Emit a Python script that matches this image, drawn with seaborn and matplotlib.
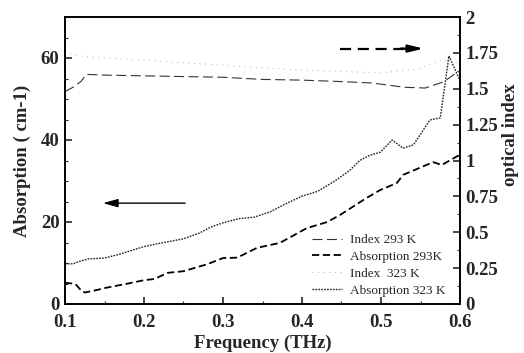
import numpy as np
import pandas as pd
import matplotlib
matplotlib.use("Agg")
import matplotlib.pyplot as plt
import seaborn as sns

# ---------------- data ----------------
freq_abs323 = [0.100, 0.110, 0.120, 0.130, 0.150, 0.170, 0.200, 0.220, 0.250, 0.270,
               0.285, 0.300, 0.320, 0.340, 0.360, 0.380, 0.400, 0.420, 0.440, 0.460,
               0.473, 0.486, 0.499, 0.514, 0.528, 0.541, 0.562, 0.575, 0.586, 0.600]
abs323 = [9.8, 9.8, 10.5, 11.0, 11.2, 12.2, 14.0, 14.8, 15.9, 17.3,
          18.8, 19.8, 20.8, 21.2, 22.5, 24.5, 26.3, 27.5, 29.8, 32.5,
          35.0, 36.3, 37.0, 40.0, 38.0, 38.8, 44.9, 45.4, 60.5, 54.5]

freq_abs293 = [0.100, 0.113, 0.121, 0.125, 0.140, 0.153, 0.180, 0.200, 0.213, 0.230,
               0.250, 0.280, 0.300, 0.318, 0.343, 0.372, 0.406, 0.432, 0.448, 0.482,
               0.499, 0.520, 0.528, 0.566, 0.577, 0.596, 0.600]
abs293 = [5.2, 4.9, 3.2, 2.8, 3.4, 4.0, 5.0, 5.8, 6.1, 7.6,
          8.0, 9.7, 11.2, 11.3, 13.7, 14.9, 18.5, 20.0, 21.7, 25.9,
          27.8, 29.5, 31.5, 34.6, 33.9, 36.0, 36.3]

freq_idx293 = [0.100, 0.110, 0.120, 0.127, 0.150, 0.200, 0.250, 0.300, 0.350, 0.400,
               0.450, 0.489, 0.530, 0.556, 0.580, 0.595, 0.600]
idx293 = [1.48, 1.51, 1.55, 1.60, 1.595, 1.59, 1.585, 1.58, 1.565, 1.56,
          1.55, 1.54, 1.51, 1.505, 1.55, 1.61, 1.62]

freq_idx323 = [0.100, 0.130, 0.150, 0.200, 0.250, 0.300, 0.350, 0.400, 0.450, 0.500,
               0.550, 0.575, 0.600]
idx323 = [1.75, 1.72, 1.715, 1.70, 1.68, 1.665, 1.645, 1.63, 1.62, 1.61,
          1.64, 1.70, 1.68]

labels = ["Index 293 K", "Absorption 293K", "Index  323 K", "Absorption 323 K"]
x_ticks = [0.1, 0.2, 0.3, 0.4, 0.5, 0.6]
left_ticks = [0, 20, 40, 60]
right_ticks = [0, 0.25, 0.5, 0.75, 1, 1.25, 1.5, 1.75, 2]
right_ticklabels = ["0", "0.25", "0.5", "0.75", "1", "1.25", "1.5", "1.75", "2"]

# ---------------- style ----------------
sns.set_style("ticks")
plt.rcParams["font.family"] = ["Liberation Serif", "DejaVu Serif"]
plt.rcParams["axes.linewidth"] = 1.2

fig = plt.figure(figsize=(5.24, 3.53), dpi=100)
ax = fig.add_axes([65 / 524, 1 - 304 / 353, 395 / 524, 287 / 353])
ax2 = ax.twinx()

df_a323 = pd.DataFrame({"f": freq_abs323, "v": abs323})
df_a293 = pd.DataFrame({"f": freq_abs293, "v": abs293})
df_i293 = pd.DataFrame({"f": freq_idx293, "v": idx293})
df_i323 = pd.DataFrame({"f": freq_idx323, "v": idx323})

sns.lineplot(data=df_a293, x="f", y="v", ax=ax, color="black", lw=1.3,
             estimator=None, sort=False)
sns.lineplot(data=df_a323, x="f", y="v", ax=ax, color="#222222", lw=1.0,
             estimator=None, sort=False)
sns.lineplot(data=df_i293, x="f", y="v", ax=ax2, color="#333333", lw=0.8,
             estimator=None, sort=False)
sns.lineplot(data=df_i323, x="f", y="v", ax=ax2, color="#9a9a9a", lw=0.7,
             estimator=None, sort=False)

l_a293, l_a323 = ax.get_lines()[0], ax.get_lines()[1]
l_i293, l_i323 = ax2.get_lines()[0], ax2.get_lines()[1]
l_a293.set_dashes([4, 2])
l_a323.set_dashes([1.2, 0.9])
l_i293.set_dashes([9, 4])
l_i323.set_dashes([0.8, 5])

ax.set_xlim(0.1, 0.6)
ax.set_ylim(0, 70)
ax2.set_ylim(0, 2)

ax.set_xticks(x_ticks)
ax.set_xticklabels([f"{t:.1f}" for t in x_ticks])
ax.set_yticks(left_ticks)
ax2.set_yticks(right_ticks)
ax2.set_yticklabels(right_ticklabels)
ax.xaxis.set_minor_locator(matplotlib.ticker.MultipleLocator(0.05))
ax.yaxis.set_minor_locator(matplotlib.ticker.MultipleLocator(5))
ax2.yaxis.set_minor_locator(matplotlib.ticker.MultipleLocator(0.125))

for lab in ax.get_xticklabels() + ax.get_yticklabels() + ax2.get_yticklabels():
    lab.set_fontsize(13.5)
    lab.set_fontweight("bold")

ax.tick_params(axis="both", which="major", direction="in", length=5, width=1.2,
               top=False, right=False)
ax.tick_params(axis="both", which="minor", direction="in", length=2.5, width=0.8,
               top=False, right=False)
ax.tick_params(axis="x", pad=7)
ax.tick_params(axis="y", pad=4)
ax2.tick_params(axis="y", which="major", direction="in", length=5, width=1.2, pad=4)
ax2.tick_params(axis="y", which="minor", direction="in", length=2.5, width=0.8)

for a in (ax, ax2):
    for s in a.spines.values():
        s.set_visible(True)
        s.set_color("black")
        s.set_linewidth(1.2)

ax.set_xlabel("Frequency (THz)", fontsize=13.5, fontweight="bold")
ax.set_ylabel("Absorption ( cm-1)", fontsize=13.5, fontweight="bold")
ax2.set_ylabel("optical index", fontsize=13.5, fontweight="bold")
ax.xaxis.set_label_coords(0.5, -0.108)
ax.yaxis.set_label_coords(-0.086, 0.5)
ax2.yaxis.set_label_coords(1.106, 0.59)

# arrows
ax.annotate("", xy=(0.148, 24.6), xytext=(0.252, 24.6),
            arrowprops=dict(arrowstyle="-|>,head_length=0.9,head_width=0.25",
                            color="black", lw=1.0, shrinkA=0, shrinkB=0))
ax2.plot([0.448, 0.53], [1.78, 1.78], color="black", lw=1.6, dashes=[5, 3])
ax2.annotate("", xy=(0.554, 1.78), xytext=(0.525, 1.78),
             arrowprops=dict(arrowstyle="-|>,head_length=0.9,head_width=0.22",
                             color="black", lw=1.6, shrinkA=0, shrinkB=0))

leg = ax2.legend([l_i293, l_a293, l_i323, l_a323], labels,
                 loc="lower left", bbox_to_anchor=(0.625, 0.025),
                 frameon=False, fontsize=9.5, handlelength=2.3,
                 handletextpad=0.6, labelspacing=0.35, borderpad=0,
                 borderaxespad=0)

fig.savefig("out.png", dpi=100)
